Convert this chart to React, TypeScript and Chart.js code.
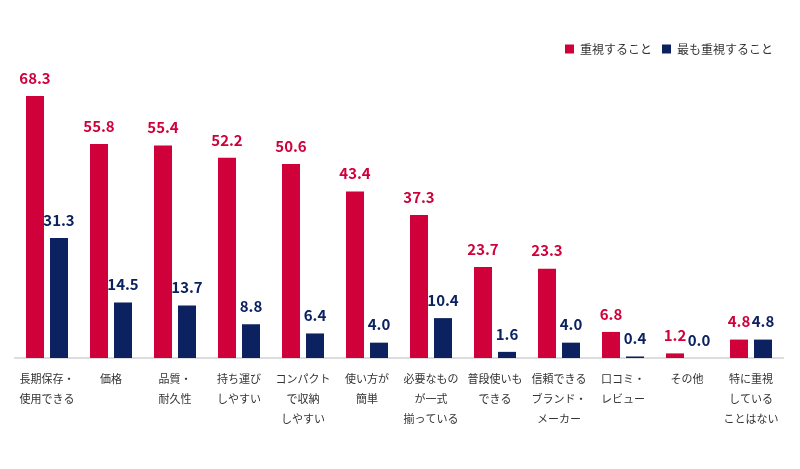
import { useEffect, useRef } from 'react';
import { Chart, registerables } from 'chart.js';

Chart.register(...registerables);

const categories: string[][] = [
  ['長期保存・', '使用できる'],
  ['価格'],
  ['品質・', '耐久性'],
  ['持ち運び', 'しやすい'],
  ['コンパクト', 'で収納', 'しやすい'],
  ['使い方が', '簡単'],
  ['必要なもの', 'が一式', '揃っている'],
  ['普段使いも', 'できる'],
  ['信頼できる', 'ブランド・', 'メーカー'],
  ['口コミ・', 'レビュー'],
  ['その他'],
  ['特に重視', 'している', 'ことはない'],
];

const important = [68.3, 55.8, 55.4, 52.2, 50.6, 43.4, 37.3, 23.7, 23.3, 6.8, 1.2, 4.8];
const mostImportant = [31.3, 14.5, 13.7, 8.8, 6.4, 4.0, 10.4, 1.6, 4.0, 0.4, 0.0, 4.8];

const RED = '#d0003a';
const NAVY = '#0b2160';
const FONT = '"Noto Sans CJK JP", "Noto Sans", sans-serif';

// draws the value above each bar
const valueLabels = {
  id: 'valueLabels',
  afterDatasetsDraw(chart: Chart) {
    const { ctx } = chart;
    ctx.save();
    ctx.font = `bold 15px ${FONT}`;
    ctx.textAlign = 'center';
    ctx.textBaseline = 'middle';
    chart.data.datasets.forEach((ds, i) => {
      const meta = chart.getDatasetMeta(i);
      ctx.fillStyle = ds.backgroundColor as string;
      meta.data.forEach((bar: any, j) => {
        const v = ds.data[j] as number;
        ctx.fillText(v.toFixed(1), bar.x, bar.y - 18);
      });
    });
    ctx.restore();
  },
};

export default function App() {
  const canvasRef = useRef<HTMLCanvasElement>(null);

  useEffect(() => {
    if (!canvasRef.current) return;
    const chart = new Chart(canvasRef.current, {
      type: 'bar',
      data: {
        labels: categories,
        datasets: [
          {
            label: '重視すること',
            data: important,
            backgroundColor: RED,
            categoryPercentage: 0.75,
            barPercentage: 0.75,
          },
          {
            label: '最も重視すること',
            data: mostImportant,
            backgroundColor: NAVY,
            categoryPercentage: 0.75,
            barPercentage: 0.75,
          },
        ],
      },
      options: {
        animation: false,
        responsive: true,
        maintainAspectRatio: false,
        layout: { padding: { top: 33, left: 15, right: 17, bottom: 37 } },
        plugins: {
          legend: {
            position: 'top',
            align: 'end',
            labels: {
              boxWidth: 9,
              boxHeight: 9,
              padding: 10,
              color: '#333',
              font: { family: FONT, size: 12 },
            },
          },
          tooltip: { enabled: false },
        },
        scales: {
          x: {
            grid: { display: false },
            border: { display: true, color: '#dddddd', width: 2 },
            ticks: {
              color: '#333',
              padding: 3,
              maxRotation: 0,
              autoSkip: false,
              font: { family: FONT, size: 11, lineHeight: '20px' },
            },
          },
          y: {
            display: false,
            min: 0,
            max: 76.4,
          },
        },
      },
      plugins: [valueLabels],
    });
    return () => chart.destroy();
  }, []);

  return (
    <div style={{ position: 'fixed', left: 0, top: 0, width: 800, height: 469, background: '#fff' }}>
      <canvas ref={canvasRef} />
    </div>
  );
}
